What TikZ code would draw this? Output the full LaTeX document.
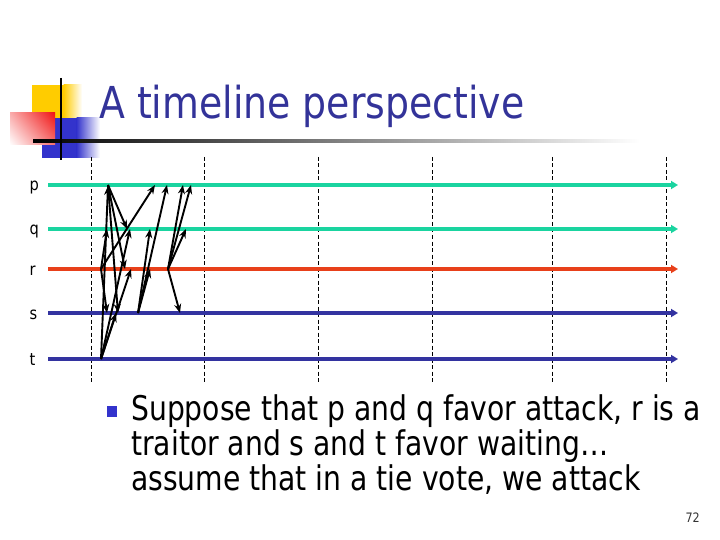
\documentclass[tikz,border=0pt]{standalone}
\usepackage{fontspec}
\setmainfont{DejaVu Sans}[FakeStretch=0.86]
\newfontfamily\bodyfont{DejaVu Sans}[FakeStretch=0.83]
\usetikzlibrary{arrows.meta,shadings}
\definecolor{tealline}{RGB}{26,212,160}
\definecolor{redline}{RGB}{232,64,26}
\definecolor{blueline}{RGB}{51,51,160}
\definecolor{titleblue}{RGB}{51,51,153}
\definecolor{logoblue}{RGB}{51,51,204}
\definecolor{logoyellow}{RGB}{255,204,0}
\definecolor{logored}{RGB}{240,20,20}
\begin{document}
\begin{tikzpicture}[x=1pt,y=-1pt,
  tline/.style={line width=4pt,-{Triangle[length=7pt,width=8pt]}},
  vdash/.style={line width=0.8pt,dash pattern=on 4pt off 2.5pt},
  msg/.style={line width=1.9pt,-{Stealth[length=9pt,width=7pt]}},
  lab/.style={anchor=base west,inner sep=0pt,font=\fontsize{17}{20}\selectfont},
]
\useasboundingbox (0,0) rectangle (720,540);
% logo
\fill[logoyellow] (32,85) rectangle (64,120);
\shade[left color=logoyellow,right color=white] (63.5,85) rectangle (82,120);
\fill[logoblue] (42,118) rectangle (77,158);
\shade[left color=logoblue,right color=white] (76.5,118) rectangle (100,158);
\shade[upper left=logored!35,upper right=logored,lower left=white,lower right=logored!60] (10,113) rectangle (55,145);
\shade[left color=black,right color=white] (33,140) rectangle (640,142.2);
\draw[line width=2.7pt] (61,78) -- (61,160);
% title
\node[anchor=base west,inner sep=0pt,text=titleblue,font=\fontsize{44}{50}\selectfont] (title) at (99,118.5) {A timeline perspective};
% dashed verticals
\foreach \x/\n in {91/d0,204/d1,318/d2,432/d3,552/d4,666/d5}{
  \coordinate (\n a) at (\x,157);
  \coordinate (\n b) at (\x,383);
  \draw[vdash] (\n a) -- (\n b);
}
% timelines
\foreach \n/\y/\c in {p/185/tealline,q/229/tealline,r/269/redline,s/313/blueline,t/359/blueline}{
  \node[lab] (l\n) at (29.5,\y+6) {\n};
  \coordinate (\n0) at (48,\y);
  \coordinate (\n1) at (678,\y);
  \draw[tline,\c] (\n0) -- (\n1);
}
% message endpoints
\coordinate (pa) at (108,185);
\coordinate (ra) at (101,269);
\coordinate (ta) at (101,359);
\coordinate (sa) at (138,313);
\coordinate (rb) at (168,269);
% heads
\coordinate (hq1) at (127,229);
\coordinate (hr1) at (125,269);
\coordinate (hs1) at (118,313);
\coordinate (hq2) at (107,229);
\coordinate (hs2) at (107,313);
\coordinate (hp1) at (155,185);
\coordinate (hp0) at (108,186);
\coordinate (hr2) at (131,269);
\coordinate (hq3) at (130,229);
\coordinate (hs3) at (116,313);
\coordinate (hr3) at (150,269);
\coordinate (hq4) at (150,229);
\coordinate (hp2) at (167,185);
\coordinate (hp3) at (183,185);
\coordinate (hp4) at (191,185);
\coordinate (hq5) at (186,229);
\coordinate (hs4) at (180,313);
% messages
\draw[msg] (pa) -- (hq1);
\draw[msg] (pa) -- (hr1);
\draw[msg] (pa) -- (hs1);
\draw[msg] (ra) -- (hq2);
\draw[msg] (ra) -- (hs2);
\draw[msg] (ra) -- (hp1);
\draw[msg] (ta) -- (hp0);
\draw[msg] (ta) -- (hr2);
\draw[msg] (ta) -- (hq3);
\draw[msg] (ta) -- (hs3);
\draw[msg] (sa) -- (hr3);
\draw[msg] (sa) -- (hq4);
\draw[msg] (sa) -- (hp2);
\draw[msg] (rb) -- (hp3);
\draw[msg] (rb) -- (hp4);
\draw[msg] (rb) -- (hq5);
\draw[msg] (rb) -- (hs4);
% bullet text
\fill[logoblue] (107,406) rectangle (117,416.5);
\node[anchor=base west,inner sep=0pt,align=left,font=\bodyfont\fontsize{34}{35}\selectfont] (body) at (131,490.5)
  {Suppose that p and q favor attack, r is a\\traitor and s and t favor waiting…\\assume that in a tie vote, we attack};
\node[anchor=base east,inner sep=0pt,font=\fontsize{13}{15}\selectfont,text=black!80] (pnum) at (700,522) {72};
\end{tikzpicture}
\end{document}
